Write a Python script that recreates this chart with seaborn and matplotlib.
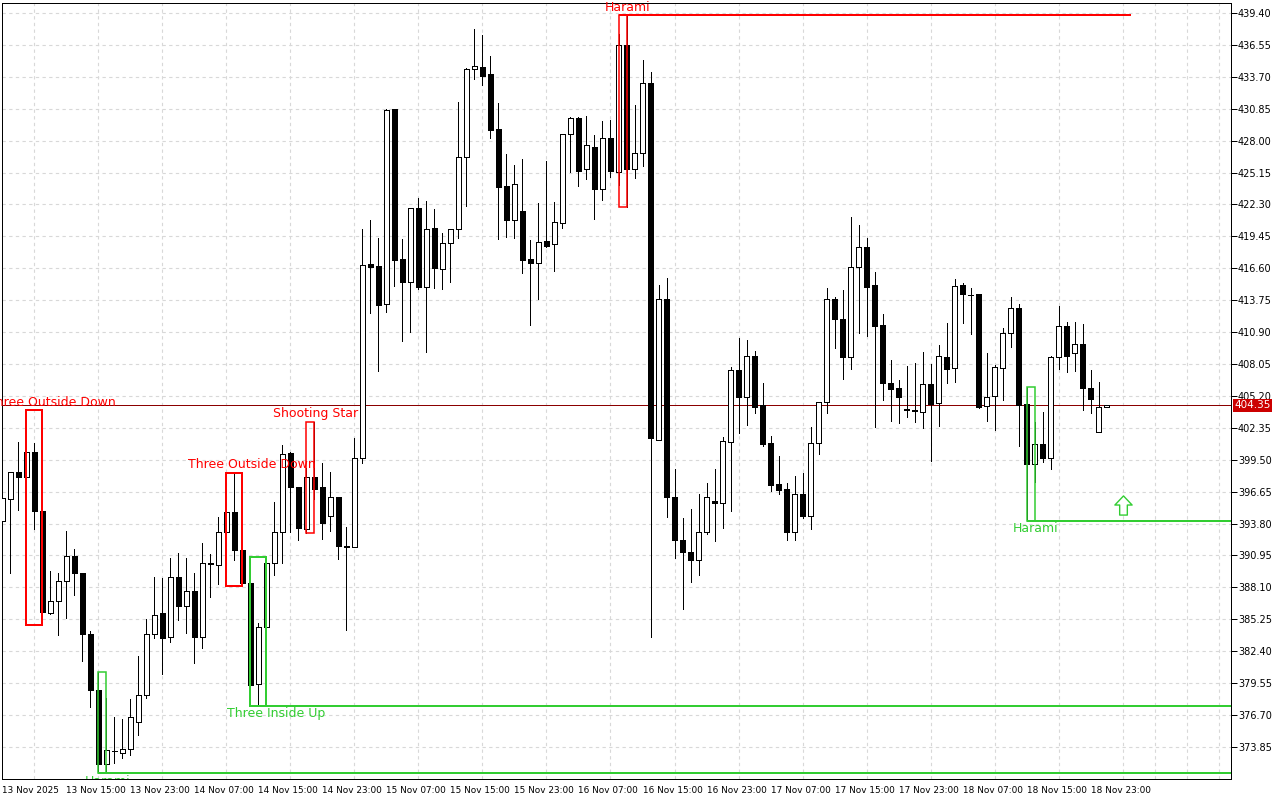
import numpy as np
import pandas as pd
import matplotlib
matplotlib.use("Agg")
import matplotlib.pyplot as plt
from matplotlib.patches import Rectangle
from matplotlib.path import Path
import seaborn as sns

sns.set_theme(style="white")
plt.rcParams['font.family'] = ['DejaVu Sans']

# hourly candles, 13 Nov 07:00 -> 19 Nov 01:00
opens = [394.03, 395.97, 398.41, 397.93, 400.16, 394.95, 385.78, 386.92, 388.70, 390.90,
         389.36, 383.97, 378.90, 372.36, 373.52, 373.28, 373.64, 376.11, 378.46, 383.91,
         385.81, 383.70, 389.00, 386.47, 387.75, 383.70, 390.25, 390.10, 393.08, 394.87,
         391.44, 388.47, 379.45, 384.60, 390.25, 393.08, 400.08, 397.04, 393.29, 397.99,
         397.04, 394.48, 396.15, 391.80, 391.74, 399.62, 416.98, 416.80, 413.38, 430.82,
         417.43, 415.40, 421.95, 414.96, 420.17, 416.50, 418.83, 420.08, 426.51, 434.37,
         434.55, 433.95, 429.04, 423.95, 420.91, 421.72, 417.40, 417.10, 419.04, 418.74,
         420.61, 428.56, 429.99, 425.44, 427.43, 423.71, 428.21, 425.17, 436.54, 425.50,
         426.85, 433.16, 401.30, 413.87, 396.19, 392.36, 391.23, 390.54, 393.09, 395.79,
         395.67, 401.11, 407.51, 405.13, 408.76, 404.39, 400.97, 397.33, 396.86, 393.08,
         396.44, 394.50, 400.97, 404.69, 413.83, 412.04, 408.71, 416.75, 418.53, 415.08,
         411.51, 406.33, 405.88, 404.00, 403.95, 403.80, 406.24, 404.54, 408.65, 407.67,
         415.11, 414.25, 414.28, 404.30, 405.23, 407.73, 410.79, 413.03, 404.48, 399.09,
         400.91, 399.63, 408.65, 411.45, 409.01, 409.81, 405.94, 401.95, 404.18]
highs = [396.30, 398.38, 401.12, 403.94, 400.97, 395.61, 389.56, 389.36, 393.14, 391.53,
         389.40, 384.24, 380.57, 378.19, 376.50, 376.35, 378.13, 382.00, 385.28, 389.03,
         388.91, 390.76, 391.14, 390.73, 389.36, 392.04, 391.09, 394.36, 398.35, 398.29,
         393.68, 390.85, 384.90, 390.85, 395.76, 400.82, 400.23, 397.04, 398.80, 402.90,
         399.18, 398.44, 396.15, 393.53, 401.42, 420.08, 420.91, 419.33, 430.82, 430.82,
         419.21, 421.95, 422.90, 422.61, 421.89, 419.72, 420.08, 431.42, 434.52, 437.97,
         437.44, 435.56, 431.33, 426.77, 425.83, 426.33, 419.13, 422.40, 426.18, 422.49,
         428.56, 430.08, 430.14, 430.20, 428.50, 429.75, 429.84, 437.50, 439.20, 431.15,
         435.16, 434.11, 415.15, 415.77, 398.64, 394.33, 395.06, 396.45, 397.43, 398.64,
         401.50, 407.81, 410.34, 410.19, 409.21, 406.38, 401.62, 399.83, 397.39, 398.05,
         398.35, 402.45, 404.66, 414.81, 414.07, 414.66, 421.15, 420.47, 419.28, 416.24,
         412.49, 408.41, 406.62, 407.87, 408.11, 409.10, 408.02, 409.72, 411.68, 415.61,
         415.26, 414.81, 414.30, 409.01, 408.00, 411.24, 414.01, 413.38, 405.97, 402.90,
         403.74, 408.77, 413.23, 411.84, 411.84, 411.63, 407.52, 406.42, 404.40]
lows = [393.60, 389.36, 395.01, 395.01, 393.29, 384.74, 385.73, 383.85, 385.40, 387.42,
        381.56, 377.45, 371.49, 371.64, 372.45, 372.83, 373.13, 374.92, 378.19, 383.61,
        380.37, 383.19, 385.19, 384.00, 381.38, 382.72, 387.22, 388.38, 392.00, 390.55,
        388.23, 377.51, 377.60, 383.50, 389.21, 390.25, 393.08, 392.34, 392.93, 396.00,
        392.40, 393.17, 390.61, 384.30, 391.74, 399.24, 412.63, 407.42, 412.72, 415.02,
        410.13, 410.94, 414.75, 409.15, 414.87, 414.72, 415.40, 419.33, 422.19, 433.51,
        432.97, 428.21, 419.22, 419.42, 419.28, 416.21, 411.54, 413.86, 418.53, 416.39,
        420.22, 425.17, 423.98, 424.58, 421.00, 422.70, 424.78, 424.00, 422.04, 424.70,
        425.69, 383.69, 401.30, 394.37, 390.69, 386.13, 388.61, 389.23, 392.91, 392.26,
        393.37, 394.95, 401.86, 402.60, 403.70, 400.73, 396.74, 396.44, 392.33, 392.33,
        394.33, 393.31, 400.01, 403.65, 409.51, 406.71, 407.58, 410.85, 410.55, 402.40,
        404.84, 402.99, 402.81, 403.35, 402.90, 402.37, 399.42, 402.55, 406.39, 406.48,
        411.69, 410.70, 404.10, 402.99, 402.16, 404.84, 409.60, 400.76, 394.06, 397.49,
        399.33, 398.68, 407.61, 407.37, 407.46, 403.95, 403.65, 401.95, 404.18]
closes = [396.05, 398.38, 397.93, 400.16, 394.95, 385.93, 386.92, 388.70, 390.90, 389.36,
          383.97, 378.97, 372.36, 373.55, 373.46, 373.67, 376.50, 378.49, 383.91, 385.60,
          383.61, 389.00, 386.47, 387.75, 383.70, 390.25, 390.20, 393.08, 394.87, 391.44,
          388.47, 379.39, 384.60, 390.25, 393.08, 400.02, 397.04, 393.38, 397.99, 396.89,
          393.83, 396.15, 391.80, 391.74, 399.63, 416.89, 416.74, 413.32, 430.73, 417.34,
          415.40, 421.95, 414.96, 420.08, 416.65, 418.83, 420.08, 426.51, 434.37, 434.67,
          433.80, 428.95, 423.89, 420.91, 424.10, 417.34, 417.10, 418.92, 418.62, 420.70,
          428.56, 429.99, 425.32, 427.58, 423.71, 428.21, 425.32, 436.54, 425.50, 426.85,
          433.12, 401.48, 413.87, 396.19, 392.36, 391.23, 390.54, 393.09, 396.16, 395.65,
          401.17, 407.51, 405.13, 408.76, 404.24, 400.91, 397.24, 396.80, 393.08, 396.44,
          394.48, 400.97, 404.63, 413.83, 412.04, 408.71, 416.75, 418.53, 414.96, 411.45,
          406.33, 405.85, 405.14, 403.90, 403.86, 406.24, 404.48, 408.74, 407.58, 415.00,
          414.28, 414.20, 404.24, 405.14, 407.82, 410.79, 413.03, 404.39, 399.09, 400.91,
          399.63, 408.65, 411.45, 408.80, 409.81, 405.88, 404.93, 404.18, 404.35]

tick_labels = ["13 Nov 2025", "13 Nov 15:00", "13 Nov 23:00", "14 Nov 07:00", "14 Nov 15:00",
               "14 Nov 23:00", "15 Nov 07:00", "15 Nov 15:00", "15 Nov 23:00", "16 Nov 07:00",
               "16 Nov 15:00", "16 Nov 23:00", "17 Nov 07:00", "17 Nov 15:00", "17 Nov 23:00",
               "18 Nov 07:00", "18 Nov 15:00", "18 Nov 23:00"]

# candlestick patterns found by the indicator
pattern_names = ["Three Outside Down", "Three Outside Down", "Shooting Star", "Harami",
                 "Harami", "Three Inside Up", "Harami"]
pattern_first = [3, 28, 38, 77, 12, 31, 128]
pattern_last = [5, 30, 39, 78, 13, 33, 129]
pattern_bull = [False, False, False, False, True, True, True]
pattern_line_end = [None, None, None, 141, 160, 160, 160]

arrow_bar = 140
arrow_price = 395.45

df = pd.DataFrame({'o': opens, 'h': highs, 'l': lows, 'c': closes})
df['x'] = np.arange(len(df))
up = df[df.c >= df.o]
dn = df[df.c < df.o]

fig = plt.figure(figsize=(12.8, 8), dpi=100)
ax = fig.add_axes([2/1280, 21/800, 1229/1280, 776/800])

px = 0.72  # one pixel in points
ax.vlines(df.x, df.l, df.h, color='black', lw=px, zorder=2, antialiased=False)
ax.bar(up.x, up.c - up.o, bottom=up.o, width=0.55, facecolor='white',
       edgecolor='black', lw=px, zorder=3, antialiased=False)
ax.bar(dn.x, dn.o - dn.c, bottom=dn.c, width=0.55, facecolor='black',
       edgecolor='black', lw=px, zorder=3, antialiased=False)

xmax = 153.56
red, green = '#ff0000', '#32cd32'
for name, a, b, bull, end in zip(pattern_names, pattern_first, pattern_last,
                                 pattern_bull, pattern_line_end):
    seg = df.iloc[a:b + 1]
    top, bot = seg.h.max(), seg.l.min()
    col = green if bull else red
    n = b - a + 1
    ax.add_patch(Rectangle((a, bot), b - a, top - bot, fill=False, edgecolor=col,
                           lw=2 * px if n == 3 else 1.1, zorder=4))
    if end is not None:
        yl = bot if bull else top
        ax.plot([a, min(end, xmax)], [yl, yl], color=col, lw=2 * px, zorder=4,
                solid_capstyle='butt', antialiased=False)
    shift = 17.5 if n == 3 else 5
    t = ax.annotate(name, xy=((a + b) / 2, bot if bull else top),
                    xytext=(shift, -8 if bull else 8), textcoords='offset pixels',
                    ha='center', va='center', color=col, fontsize=9, zorder=5)
    if bull:
        t.set_clip_on(True)
        t.set_clip_box(ax.bbox)

# up arrow signal
arrow = Path([(0, 1), (0.9, 0.05), (0.4, 0.05), (0.4, -1), (-0.4, -1), (-0.4, 0.05),
              (-0.9, 0.05), (0, 1)],
             [Path.MOVETO] + [Path.LINETO] * 6 + [Path.CLOSEPOLY])
sns.scatterplot(x=[arrow_bar], y=[arrow_price], marker=arrow, s=190, color='white',
                edgecolor=green, linewidth=1, ax=ax, zorder=5, legend=False)

# current price line and label
last = closes[-1]
ax.axhline(last, color='#8b0000', lw=px, zorder=1, antialiased=False)
ax.text(1.0025, last, f"{last:.2f}", transform=ax.get_yaxis_transform(),
        ha='left', va='center', color='white', fontsize=7.5,
        bbox=dict(boxstyle='square,pad=0.12', facecolor='#cc0000', edgecolor='none'))

ax.set_xlim(-0.06, xmax)
ax.set_ylim(370.99, 440.29)

yt = np.round(np.arange(373.85, 439.5, 2.85), 2)
ax.set_yticks(yt)
ax.set_yticklabels([f"{v:.2f}" for v in yt])
ax.yaxis.tick_right()
ax.set_xticks(np.arange(0, len(tick_labels) * 8, 8))
ax.set_xticklabels(tick_labels, ha='left')
ax.set_xticks(np.arange(0, 154, 4), minor=True)
ax.tick_params(axis='both', which='major', direction='out', length=4, width=px,
               color='black', labelsize=7, pad=1, labelcolor='black')
ax.tick_params(axis='x', which='major', labelsize=6.4)
ax.tick_params(axis='x', which='minor', length=0)
for lab in ax.get_xticklabels():
    lab.set_horizontalalignment('left')

ax.grid(True, which='major', axis='y', color='#d8d8d8', lw=0.8, ls=(0, (3, 3)), zorder=0)
ax.grid(True, which='minor', axis='x', color='#d8d8d8', lw=0.8, ls=(0, (3, 3)), zorder=0)
ax.set_axisbelow(True)
for s in ax.spines.values():
    s.set_color('black')
    s.set_linewidth(px)
ax.set_facecolor('white')
fig.patch.set_facecolor('white')

fig.savefig('out.png', dpi=100)
